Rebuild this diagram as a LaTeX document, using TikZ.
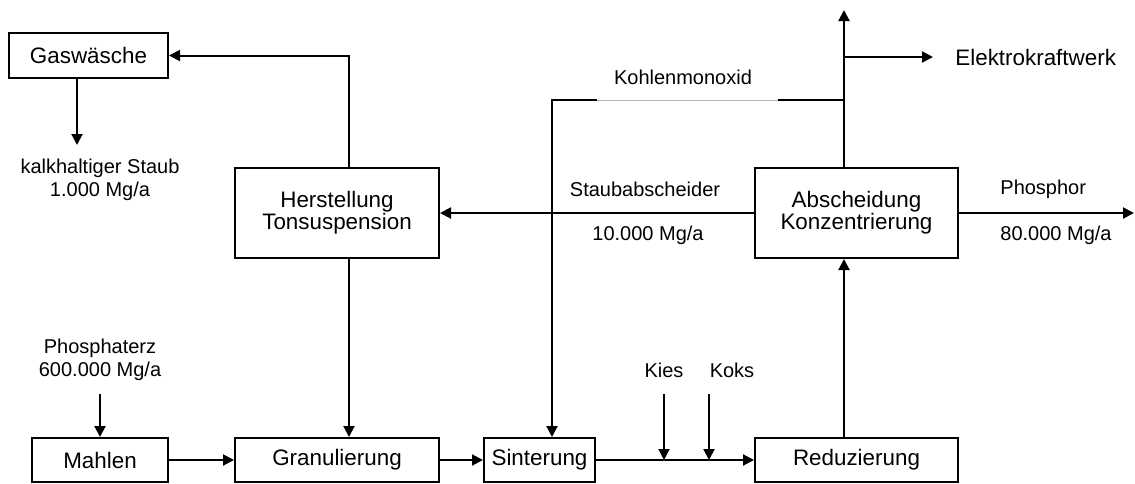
\documentclass[tikz,border=0pt]{standalone}
\usepackage{fontspec}
\setmainfont{Liberation Sans}
\usetikzlibrary{arrows.meta,calc,positioning}
\newcommand{\boxfont}{\fontsize{11.2}{11}\selectfont}
\newcommand{\lblfont}{\fontsize{10}{11.5}\selectfont}
\tikzset{
  box/.style={draw, line width=1pt, inner sep=0pt, font=\boxfont, align=center},
  lbl/.style={inner sep=0pt, font=\lblfont, align=center},
  leit/.style={line width=1pt},
  pfeil/.style={line width=1pt, -{Triangle[length=5.5pt,width=5.5pt]}},
  every picture/.style={line join=miter}
}

\begin{document}
\begin{tikzpicture}[x=0.5pt, y=-0.5pt]
    \useasboundingbox (0,0) rectangle (1135,483);

    % Anlagen
    \node[box, minimum width=79.5pt, minimum height=22.5pt] (gas) at (88.5,55.5) {Gaswäsche};
    \node[box, minimum width=102pt, minimum height=45pt] (herst) at (337,213) {Herstellung\\Tonsuspension};
    \node[box, minimum width=101.5pt, minimum height=45pt] (absch) at (856.5,213) {Abscheidung\\Konzentrierung};
    \foreach \name/\x/\w/\txt in {
      mahl/100/68/Mahlen,
      gran/337/102/Granulierung,
      sint/539.5/55.5/Sinterung,
      red/856.5/101.5/Reduzierung}
    {
      \node[box, minimum width=\w pt, minimum height=22pt] (\name) at (\x,460) {\txt};
    }

    % Beschriftungen
    \node[lbl] (kalk) at (100,179.5) {kalkhaltiger Staub\\1.000 Mg/a};
    \node[lbl] (erz) at (100,359.5) {Phosphaterz\\600.000 Mg/a};
    \node[lbl] (kies) at (664,370) {Kies};
    \node[lbl] (koks) at (732,370) {Koks};
    \node[lbl] (co) at (683,77) {Kohlenmonoxid};
    \node[lbl] (staub) at (645,189) {Staubabscheider};
    \node[lbl] (staubm) at (648,235) {10.000 Mg/a};
    \node[lbl, anchor=west] (phos) at (1000,189) {Phosphor};
    \node[lbl, anchor=west] (phosm) at (1000,235) {80.000 Mg/a};
    \node[lbl, anchor=west, font=\boxfont] (elek) at (955,57) {Elektrokraftwerk};

    % Hilfspunkte
    \coordinate (hx) at (349,0);
    \coordinate (ax) at (844,0);
    \coordinate (sx) at (552,0);
    \coordinate (top) at (844,10);
    \coordinate (ebr) at (844,57);
    \coordinate (co1) at (844,100);
    \coordinate (co2) at (778,100);
    \coordinate (co3) at (597,100);
    \coordinate (co4) at (552,100);
    \coordinate (kalka) at (77,145);
    \coordinate (kiesa) at (664,394);
    \coordinate (koksa) at (709,394);
    \coordinate (erza) at (100,394);
    \coordinate (phose) at (1134,213);

    % Stoffstroeme
    \draw[pfeil] (herst.north -| hx) |- (gas.east);
    \draw[pfeil] (gas.south -| kalka) -- (kalka);
    \draw[pfeil] (herst.south -| hx) -- (gran.north -| hx);
    \draw[pfeil] (erza) -- (mahl.north -| erza);
    \draw[pfeil] (mahl) -- (gran);
    \draw[pfeil] (gran) -- (sint);
    \draw[pfeil] (sint) -- (red);
    \draw[pfeil] (kiesa) -- (kiesa |- sint.east);
    \draw[pfeil] (koksa) -- (koksa |- sint.east);
    \draw[pfeil] (red.north -| ax) -- (absch.south -| ax);
    \draw[pfeil] (absch.north -| ax) -- (top);
    \draw[pfeil, shorten >=11pt] (ebr) -- (elek.west);
    \draw[pfeil] (absch.west) -- (herst.east);
    \draw[pfeil] (absch.east) -- (phose);
    \draw[leit] (co1) -- (co2);
    \draw[gray!60, line width=0.5pt] (co2) -- (co3);
    \draw[pfeil] (co3) -- (co4) -- (sint.north -| sx);
\end{tikzpicture}
\end{document}
